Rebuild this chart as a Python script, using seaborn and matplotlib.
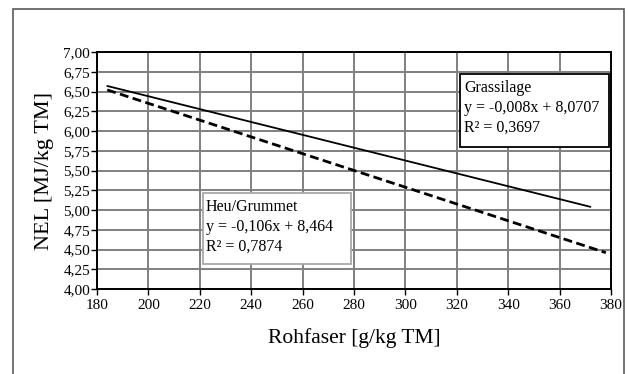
import matplotlib
matplotlib.use("Agg")
import matplotlib.pyplot as plt
import seaborn as sns
import pandas as pd
from matplotlib.patches import Rectangle

# ---- data ----
gras_x = [184, 372]
gras_y = [6.57, 5.04]
heu_x = [184, 378]
heu_y = [6.52, 4.46]
x_ticks = [180, 200, 220, 240, 260, 280, 300, 320, 340, 360, 380]
y_ticks = [4.00, 4.25, 4.50, 4.75, 5.00, 5.25, 5.50, 5.75, 6.00, 6.25, 6.50, 6.75, 7.00]
y_tick_labels = ["4,00", "4,25", "4,50", "4,75", "5,00", "5,25", "5,50",
                 "5,75", "6,00", "6,25", "6,50", "6,75", "7,00"]
gras_label = ["Grassilage", "y = -0,008x + 8,0707", "R² = 0,3697"]
heu_label = ["Heu/Grummet", "y = -0,106x + 8,464", "R² = 0,7874"]

df_g = pd.DataFrame({"x": gras_x, "y": gras_y})
df_h = pd.DataFrame({"x": heu_x, "y": heu_y})

sns.set_theme(style="white")
plt.rcParams["font.family"] = ["Liberation Serif", "DejaVu Serif"]

W, H = 628, 374
fig = plt.figure(figsize=(W / 100, H / 100), dpi=100)
fig.patch.set_facecolor("white")

# outer frame
fig.patches.append(Rectangle((13 / W, -0.1), (624 - 13) / W, (H - 9) / H + 0.1,
                             transform=fig.transFigure, fill=False,
                             edgecolor="#5a5a5a", linewidth=1.2))

L, R, T, B = 97, 611, 52, 289
ax = fig.add_axes([L / W, (H - B) / H, (R - L) / W, (B - T) / H])
ax.set_facecolor("white")

sns.lineplot(data=df_g, x="x", y="y", ax=ax, color="black", linewidth=1.3,
             zorder=4)
sns.lineplot(data=df_h, x="x", y="y", ax=ax, color="black", linewidth=2.0,
             linestyle=(0, (3.2, 1.6)), zorder=4)

ax.set_xlim(180, 380)
ax.set_ylim(4.0, 7.0)
ax.set_xticks(x_ticks)
ax.set_xticklabels([str(v) for v in x_ticks])
ax.set_yticks(y_ticks)
ax.set_yticklabels(y_tick_labels)
ax.grid(True, color="#808080", linewidth=1.4)
ax.set_axisbelow(True)
for s in ax.spines.values():
    s.set_visible(True)
    s.set_color("black")
    s.set_linewidth(1.4)
ax.tick_params(axis="both", which="major", direction="out", length=4,
               width=1.0, color="black", labelsize=11,
               left=True, bottom=True, labelcolor="black")
ax.tick_params(axis="x", pad=3)
ax.tick_params(axis="y", pad=1)

ax.set_xlabel("Rohfaser [g/kg TM]", fontsize=15.5, color="black", labelpad=12)
ax.set_ylabel("NEL [MJ/kg TM]", fontsize=16, color="black", labelpad=7)


def px_to_ax(px, py):
    return (px - L) / (R - L), (B - py) / (B - T)


def box(x0, y0, x1, y1, ec):
    ax0, ay1 = px_to_ax(x0, y1)
    ax1, ay0 = px_to_ax(x1, y0)
    ax.add_patch(Rectangle((ax0, ay1), ax1 - ax0, ay0 - ay1,
                           transform=ax.transAxes, facecolor="white",
                           edgecolor=ec, linewidth=1.3, zorder=5))


box(460, 74, 609, 147, "black")
tx, ty = px_to_ax(464, 80)
ax.text(tx, ty, "\n".join(gras_label), transform=ax.transAxes, ha="left",
        va="top", fontsize=11.5, linespacing=1.3, color="black", zorder=6)

box(203, 193, 351, 264, "#a8a8a8")
tx, ty = px_to_ax(206, 199)
ax.text(tx, ty, "\n".join(heu_label), transform=ax.transAxes, ha="left",
        va="top", fontsize=11.5, linespacing=1.3, color="black", zorder=6)

fig.savefig("out.png", dpi=100)
